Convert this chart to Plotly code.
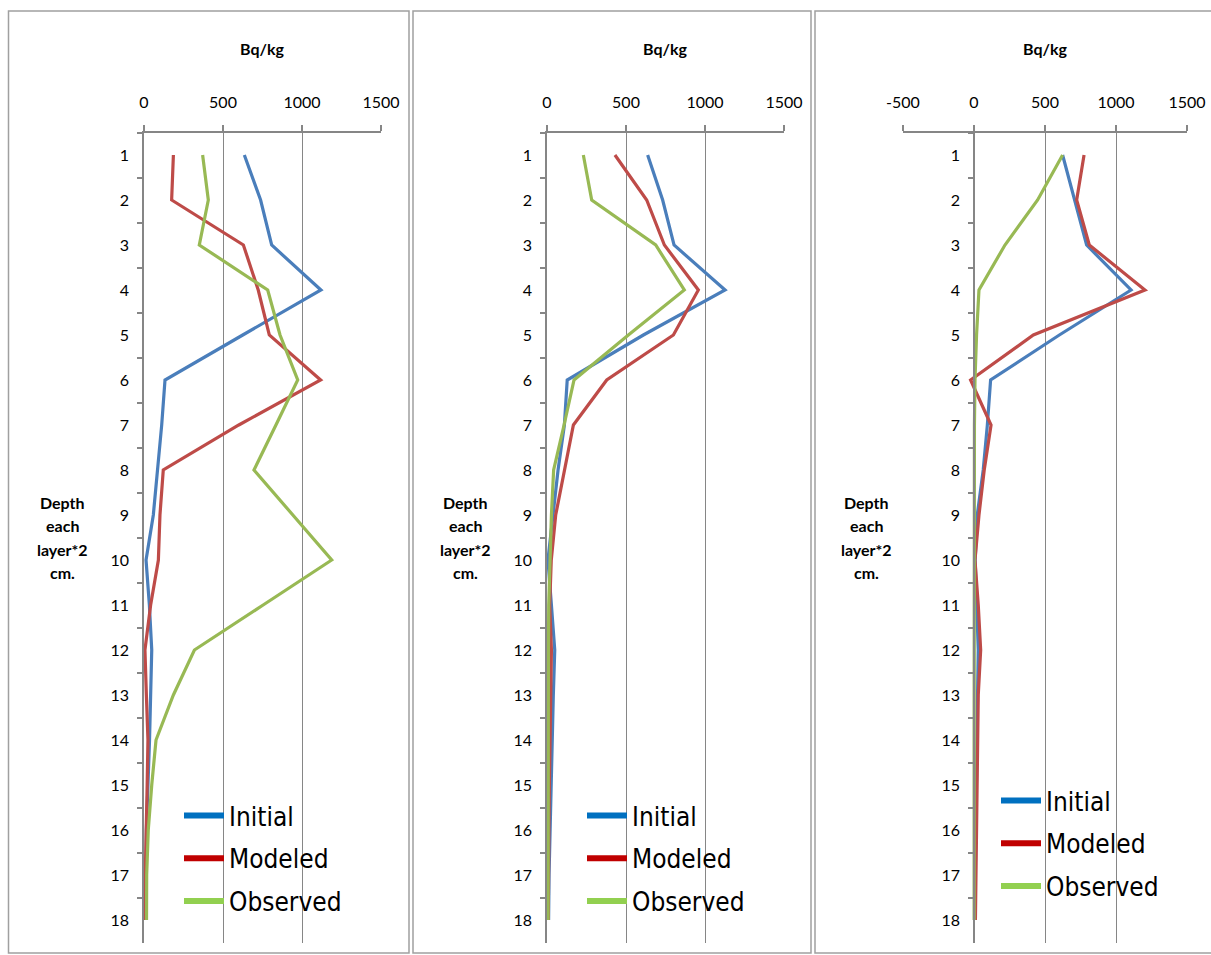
import plotly.graph_objects as go

W, H = 1211, 955

depth = [str(i) for i in range(1, 19)]
series_names = ["Initial", "Modeled", "Observed"]

init1 = [635, 738, 808, 1120, 625, 133, 112, 87, 59, 13, 34, 49, 43, 35, 25, 15, 13, 12]
mod1 = [186, 175, 629, 723, 793, 1118, 600, 122, 101, 91, 42, 6, 15, 25, 20, 12, 8, 5]
obs1 = [371, 407, 350, 783, 861, 973, 835, 696, 942, 1188, 754, 319, 186, 76, 49, 27, 17, 16]

init2 = [637, 732, 804, 1127, 610, 128, 110, 70, 38, 6, 28, 49, 40, 32, 25, 18, 13, 10]
mod2 = [430, 631, 743, 958, 800, 378, 167, 112, 55, 27, 17, 28, 22, 18, 15, 12, 10, 8]
obs2 = [230, 283, 688, 869, 515, 171, 108, 42, 28, 17, 11, 9, 9, 8, 8, 8, 7, 7]

init3 = [624, 711, 793, 1106, 601, 117, 94, 65, 23, 8, 19, 30, 25, 22, 18, 15, 10, 5]
mod3 = [775, 723, 812, 1204, 418, -24, 120, 72, 35, 7, 30, 47, 30, 25, 20, 18, 15, 10]
obs3 = [624, 448, 218, 35, 18, 7, 3, 2, 2, 1, 1, 1, 1, 1, 1, 1, 1, 1]

x_ranges = [[0, 1500], [0, 1500], [-500, 1500]]
x_ticks = [[0, 500, 1000, 1500], [0, 500, 1000, 1500], [-500, 0, 500, 1000, 1500]]
x_ticktext = [["0", "500", "1000", "1500"], ["0", "500", "1000", "1500"],
              ["-500", "0", "500", "1000", "1500"]]
x_title = "Bq/kg"
y_title_lines = ["Depth", "each", "layer*2", "cm."]

panels = [(init1, mod1, obs1), (init2, mod2, obs2), (init3, mod3, obs3)]

line_colors = ["#4A7EBB", "#BE4B48", "#98B954"]
legend_colors = ["#0070C0", "#C00000", "#92D050"]

GRID = "#868686"
FONT = "Lato, 'Open Sans', sans-serif"
LEGFONT = "'DejaVu Sans Condensed', 'Liberation Sans Narrow', Lato, sans-serif"


def px(x):
    return x / W


def py(y):
    return 1 - y / H


x_px = [(144, 381), (547, 784), (903, 1187)]
y_dom = [py(942.5), py(132.5)]

fig = go.Figure()
layout = dict(
    template="none",
    width=W, height=H,
    margin=dict(l=0, r=0, t=0, b=0, autoexpand=False),
    paper_bgcolor="white", plot_bgcolor="white",
    showlegend=True,
    font=dict(family=FONT, size=16, color="#000000"),
)

ytitle_cx = [62, 465, 867]
legend_pos = [(179, 792), (582, 792), (996, 777)]
annotations = []
shapes = []

for i, (ini, mod, obs) in enumerate(panels):
    k = "" if i == 0 else str(i + 1)
    xa, ya = "x" + k, "y" + k
    x0, x1 = x_px[i]
    dom = [px(x0), px(x1)]
    layout["xaxis" + k] = dict(
        domain=dom, range=x_ranges[i], side="top", anchor=ya, automargin=False,
        tickvals=x_ticks[i], ticktext=x_ticktext[i],
        showgrid=True, gridcolor=GRID, gridwidth=1,
        showline=True, linecolor=GRID, linewidth=1.5,
        ticks="outside", ticklen=6, tickcolor=GRID, tickwidth=1.5,
        zeroline=False, ticklabelstandoff=10,
        tickfont=dict(family=FONT, size=16, color="#000"),
    )
    ydict = dict(
        domain=y_dom, type="category", categoryorder="array", categoryarray=depth,
        range=[17.5, -0.5], showgrid=False, zeroline=False, automargin=False,
        showline=True, linecolor=GRID, linewidth=1.5,
        ticks="outside", ticklen=5, tickcolor=GRID, tickwidth=1.5,
        tickson="boundaries", ticklabelstandoff=10,
        tickfont=dict(family=FONT, size=16, color="#000"),
    )
    if x_ranges[i][0] < 0:
        pos = dom[0] + (0 - x_ranges[i][0]) / (x_ranges[i][1] - x_ranges[i][0]) * (dom[1] - dom[0])
        ydict.update(anchor="free", position=pos)
    else:
        ydict.update(anchor=xa)
    layout["yaxis" + k] = ydict

    leg = "legend" if i == 0 else "legend" + str(i + 1)
    lx, ly = legend_pos[i]
    layout[leg] = dict(
        x=px(lx), y=py(ly), xanchor="left", yanchor="top",
        bgcolor="rgba(0,0,0,0)", itemwidth=40, tracegroupgap=6,
        traceorder="grouped",
        font=dict(family=LEGFONT, size=26, color="#000"),
        itemclick=False, itemdoubleclick=False,
    )

    for vals, name, c in zip((ini, mod, obs), series_names, line_colors):
        fig.add_trace(go.Scatter(
            x=vals, y=depth, xaxis=xa, yaxis=ya, mode="lines", name=name,
            line=dict(color=c, width=3.2), showlegend=False,
        ))
    for name, c in zip(series_names, legend_colors):
        fig.add_trace(go.Scatter(
            x=[None], y=[None], xaxis=xa, yaxis=ya, mode="lines", name=name,
            line=dict(color=c, width=6), showlegend=True, legend=leg,
            legendgroup=leg + name,
        ))

    annotations.append(dict(
        text="<b>" + x_title + "</b>", xref=xa + " domain", x=0.5, yref="paper", y=py(48),
        showarrow=False, xanchor="center", yanchor="middle",
        font=dict(family=FONT, size=16, color="#000"),
    ))
    for j, t in enumerate(y_title_lines):
        annotations.append(dict(
            text="<b>" + t + "</b>", xref="paper", x=px(ytitle_cx[i]), yref="paper",
            y=py(502 + j * 23.5), showarrow=False, xanchor="center", yanchor="middle",
            font=dict(family=FONT, size=16, color="#000"),
        ))

frames = [(8.5, 409), (413, 811), (815, 1220)]
for fx0, fx1 in frames:
    shapes.append(dict(
        type="rect", xref="paper", yref="paper", x0=px(fx0), x1=px(fx1),
        y0=py(953), y1=py(11), line=dict(color="#A0A0A0", width=1.5),
        fillcolor="rgba(0,0,0,0)", layer="below",
    ))

layout["annotations"] = annotations
layout["shapes"] = shapes
fig.update_layout(**layout)
fig.write_html(
    "out.html",
    config={"displayModeBar": False},
    post_script="document.body.style.margin='0';document.body.style.overflow='hidden';",
)
